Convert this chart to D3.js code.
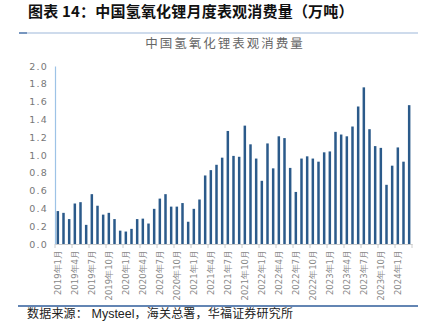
<!DOCTYPE html>
<html><head><meta charset="utf-8">
<script src="https://cdn.jsdelivr.net/npm/d3@7/dist/d3.min.js"></script>
<style>body{margin:0;background:#fff}svg{display:block}</style>
</head><body><svg id="c" width="433" height="334"></svg>
<script>
const months = [];
for (let y = 2019; y <= 2024; y++) for (let m = 1; m <= 12; m++) { if (y === 2024 && m > 3) break; months.push(y + "年" + m + "月"); }
const values = [
 0.37,0.35,0.28,0.455,0.47,0.215,0.56,0.43,0.33,0.35,0.28,0.15,
 0.14,0.17,0.28,0.285,0.23,0.395,0.51,0.56,0.42,0.42,0.46,0.25,
 0.395,0.50,0.77,0.83,0.89,0.97,1.27,0.99,0.98,1.33,1.12,0.96,
 0.71,1.13,0.85,1.21,1.19,0.855,0.585,0.96,0.985,0.96,0.925,1.03,
 1.04,1.26,1.23,1.21,1.32,1.545,1.76,1.29,1.10,1.08,0.665,0.88,
 1.085,0.925,1.56
];
const yTicks = [0,0.2,0.4,0.6,0.8,1.0,1.2,1.4,1.6,1.8,2.0];
const xLabels = months.filter((d,i)=>i%3===0);

const svg = d3.select("#c");
const cjk = "'Noto Sans CJK SC', sans-serif";

svg.append("text").attr("x",28).attr("y",17).attr("font-family",cjk).attr("font-weight",700)
  .attr("font-size",15).attr("letter-spacing",0.2).attr("fill","#111").text("图表 14：中国氢氧化锂月度表观消费量（万吨）");
svg.append("line").attr("x1",19).attr("x2",418).attr("y1",33).attr("y2",33).attr("stroke","#9db8da").attr("stroke-width",1.2);
svg.append("line").attr("x1",19).attr("x2",27).attr("y1",33).attr("y2",33).attr("stroke","#5a7fb0").attr("stroke-width",1.5);

svg.append("text").attr("x",225).attr("y",47.5).attr("text-anchor","middle").attr("font-family",cjk)
  .attr("font-size",12.5).attr("letter-spacing",2).attr("fill","#666").text("中国氢氧化锂表观消费量");

const x = d3.scaleBand().domain(months).range([55,412]).paddingInner(0.56).paddingOuter(0.28);
const y = d3.scaleLinear().domain([0,2]).range([244,66]);

svg.append("g").selectAll("rect").data(values).join("rect")
  .attr("x",(d,i)=>x(months[i])).attr("width",x.bandwidth())
  .attr("y",d=>y(d)).attr("height",d=>y(0)-y(d)).attr("fill","#2b5a8a");

const ya = svg.append("g").attr("transform","translate(55,0)")
  .call(d3.axisLeft(y).tickValues(yTicks).tickFormat(d3.format(".1f")).tickSize(0).tickPadding(7));
ya.select(".domain").attr("stroke","#9dc3e6").attr("stroke-width",1.2);
ya.selectAll("text").attr("font-family","'DejaVu Sans', sans-serif").attr("font-size",9.5)
  .attr("letter-spacing",1.2).attr("fill","#777");

const xa = svg.append("g").attr("transform","translate(0,244)")
  .call(d3.axisBottom(x).tickValues(xLabels).tickSize(0).tickPadding(6));
xa.select(".domain").attr("stroke","#ccc");
xa.selectAll(".tick line").remove();
xa.selectAll("text").attr("font-family","'DejaVu Sans', sans-serif").attr("font-size",8.5).attr("fill","#888")
  .attr("transform","rotate(-90)").attr("text-anchor","end").attr("dy","0.35em").attr("x",-6).attr("y",0);
const step = x.step();
const x0 = x(months[0]) - x.paddingOuter()*step;
svg.append("g").selectAll("line").data(d3.range(0, months.length+1, 3)).join("line")
  .attr("x1",i=>x0 + i*step).attr("x2",i=>x0 + i*step)
  .attr("y1",244).attr("y2",248).attr("stroke","#ccc");

svg.append("line").attr("x1",18).attr("x2",418).attr("y1",306).attr("y2",306).attr("stroke","#2f5c9a").attr("stroke-width",1.3);
const src = svg.append("text").attr("x",27).attr("y",318).attr("font-size",12).attr("fill","#222").attr("font-family",cjk);
src.append("tspan").attr("letter-spacing",0.2).text("数据来源：");
src.append("tspan").attr("font-family","'Liberation Sans', Arial, sans-serif").attr("font-size",12.5).text(" Mysteel");
src.append("tspan").attr("letter-spacing",0.2).text("，海关总署，华福证券研究所");
</script></body></html>
